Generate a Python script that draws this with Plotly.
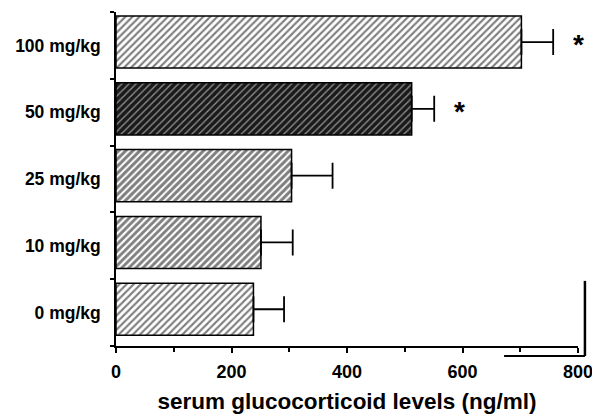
import plotly.graph_objects as go

categories = ["0 mg/kg", "10 mg/kg", "25 mg/kg", "50 mg/kg", "100 mg/kg"]
values = [238, 251, 304, 512, 702]
errors = [53, 55, 71, 39, 55]
significant = [False, False, False, True, True]

pattern_solidity = [0.42, 0.58, 0.6, 0.28, 0.42]
pattern_size = [5, 5, 5, 5, 5]
pattern_fg = ["black", "black", "black", "white", "black"]
pattern_bg = ["white", "white", "white", "#1a1a1a", "white"]

fig = go.Figure()
fig.add_trace(go.Bar(
    y=categories, x=values, orientation="h",
    marker=dict(
        color="white",
        line=dict(color="black", width=1.5),
        pattern=dict(shape="/", fgcolor=pattern_fg, bgcolor=pattern_bg,
                     size=pattern_size, solidity=pattern_solidity),
    ),
    error_x=dict(type="data", symmetric=False, array=errors,
                 arrayminus=[0] * len(errors), color="black",
                 thickness=1.8, width=13),
    width=0.78, offset=-0.34,
    showlegend=False,
))

annotations = []
for cat, v, e, sig in zip(categories, values, errors, significant):
    if sig:
        annotations.append(dict(
            x=v + e, y=cat, xref="x", yref="y", text="*", showarrow=False,
            xanchor="left", xshift=18, yshift=1,
            font=dict(family="Liberation Sans", size=28, color="black", weight="bold"),
        ))

fig.update_layout(
    width=592, height=414,
    margin=dict(l=116, r=14, t=12, b=68, autoexpand=False),
    paper_bgcolor="white", plot_bgcolor="white",
    font=dict(family="Liberation Sans", color="black"),
    xaxis=dict(
        range=[0, 800], tickvals=[0, 200, 400, 600, 800],
        automargin=False, ticklabeloverflow="allow",
        showline=True, linecolor="black", linewidth=1.5,
        ticks="outside", ticklen=5, tickwidth=1.5, tickcolor="black",
        minor=dict(tickvals=[100, 300, 500, 700], ticks="outside", ticklen=4,
                   tickwidth=1.5, tickcolor="black"),
        showgrid=False, zeroline=False,
        tickfont=dict(size=18, family="Liberation Sans", weight="bold"),
        ticklabelstandoff=4,
        title=dict(text="serum glucocorticoid levels (ng/ml)",
                   font=dict(size=22.5, family="Liberation Sans", weight="bold"),
                   standoff=12),
    ),
    yaxis=dict(
        range=[-0.5, 4.5],
        automargin=False,
        showline=True, linecolor="black", linewidth=1.5,
        ticks="outside", ticklen=4, tickwidth=1.5, tickcolor="black",
        tickson="boundaries",
        showgrid=False, zeroline=False,
        tickfont=dict(size=17.5, family="Liberation Sans", weight="bold"),
        ticklabelstandoff=10,
    ),
    annotations=annotations,
    shapes=[
        dict(type="line", xref="paper", yref="paper", x0=1.015, x1=1.015,
             y0=0.195, y1=-0.03, line=dict(color="black", width=2.5)),
        dict(type="line", xref="paper", yref="paper", x0=0.84, x1=1.015,
             y0=-0.03, y1=-0.03, line=dict(color="black", width=2)),
    ],
)

fig.write_html("out.html", config={"displayModeBar": False},
               post_script="document.body.style.margin='0';")
